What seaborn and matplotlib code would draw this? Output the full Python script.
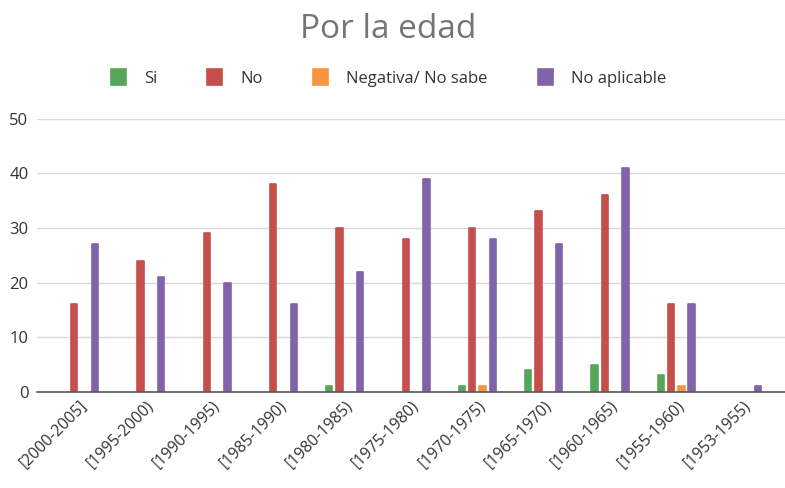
import numpy as np
import pandas as pd
import matplotlib
matplotlib.use("Agg")
import matplotlib.pyplot as plt
import seaborn as sns

categories = ["[2000-2005]", "[1995-2000)", "[1990-1995)", "[1985-1990)", "[1980-1985)",
              "[1975-1980)", "[1970-1975)", "[1965-1970)", "[1960-1965)", "[1955-1960)",
              "[1953-1955)"]
si = [0, 0, 0, 0, 1, 0, 1, 4, 5, 3, 0]
no = [16, 24, 29, 38, 30, 28, 30, 33, 36, 16, 0]
negativa = [0, 0, 0, 0, 0, 0, 1, 0, 0, 1, 0]
no_aplicable = [27, 21, 20, 16, 22, 39, 28, 27, 41, 16, 1]
series_names = ["Si", "No", "Negativa/ No sabe", "No aplicable"]
colors = ["#57A55A", "#C44F4B", "#F8963F", "#8063A8"]

rows = []
for name, vals in zip(series_names, [si, no, negativa, no_aplicable]):
    for c, v in zip(categories, vals):
        rows.append({"cat": c, "serie": name, "val": v if v != 0 else np.nan})
df = pd.DataFrame(rows)

sns.set_theme(style="white")
plt.rcParams['font.family'] = ['Open Sans', 'DejaVu Sans']

fig = plt.figure(figsize=(7.85, 4.88), dpi=100)
ax = fig.add_axes([0.047, 0.197, 0.953, 0.56])

sns.barplot(data=df, x="cat", y="val", hue="serie", order=categories,
            hue_order=series_names, palette=colors, width=0.62, gap=0.38,
            saturation=1, ax=ax, legend=True)
for p in ax.patches:
    p.set_edgecolor(p.get_facecolor())
    p.set_linewidth(1.2)
    p.set_joinstyle('round')

ax.set_ylim(0, 50)
ax.set_xlim(-0.64, 10.64)
ax.set_yticks([0, 10, 20, 30, 40, 50])
ax.yaxis.grid(True, color="#d9d9d9", linewidth=1)
ax.set_axisbelow(True)
for s in ["top", "right", "left"]:
    ax.spines[s].set_visible(False)
ax.spines["bottom"].set_color("#595959")
ax.spines["bottom"].set_linewidth(1.2)
ax.set_xlabel("")
ax.set_ylabel("")
ax.tick_params(axis="y", length=0, labelsize=12, labelcolor="#333333", pad=6)
ax.tick_params(axis="x", length=0, labelsize=11.5, labelcolor="#333333", pad=4)
plt.setp(ax.get_xticklabels(), rotation=45, ha="right", rotation_mode="anchor")

h, l = ax.get_legend_handles_labels()
ax.legend_.remove()
fig.legend(h, l, loc="center", bbox_to_anchor=(0.495, 0.84), ncol=4, frameon=False,
           fontsize=12, handlelength=0.9, handleheight=1.1, columnspacing=3.0,
           handletextpad=1.1, labelcolor="#333333")

fig.text(0.495, 0.94, "Por la edad", ha="center", va="center", fontsize=24, color="#757575")

fig.savefig("out.png", dpi=100)
